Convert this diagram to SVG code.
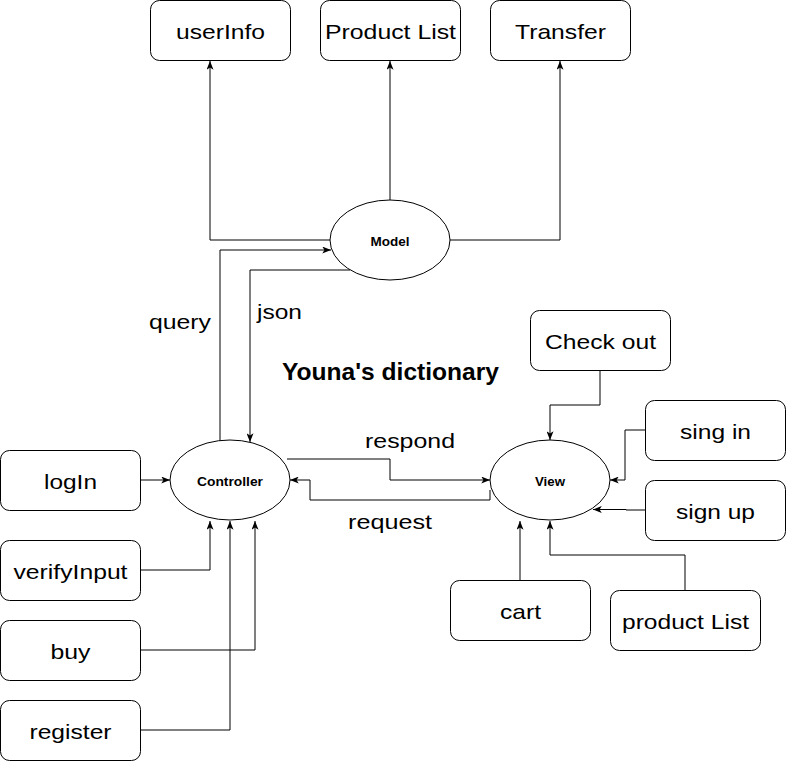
<svg xmlns="http://www.w3.org/2000/svg" width="786" height="761" viewBox="0 0 786 761">
<style>
.box{fill:#fff;stroke:#000;stroke-width:1}
.ell{fill:#fff;stroke:#000;stroke-width:1}
.t{font-family:"Liberation Sans",Arial,sans-serif;font-size:21px;fill:#000;text-anchor:middle}
.s{font-family:"Liberation Sans",Arial,sans-serif;font-size:13px;font-weight:bold;fill:#000;text-anchor:middle}
.title{font-family:"Liberation Sans",Arial,sans-serif;font-size:24px;font-weight:bold;fill:#000;text-anchor:middle}
.c{fill:none;stroke:#000;stroke-width:1}
</style>
<defs>
<marker id="arr" viewBox="0 0 10 8" refX="10" refY="4" markerWidth="9" markerHeight="7" markerUnits="userSpaceOnUse" orient="auto">
<path d="M0,0 L10,4 L0,8 L2.5,4 Z" fill="#000"/>
</marker>
</defs>
<rect width="786" height="761" fill="#fff"/>
<g id="connectors">
<path class="c" d="M330,240 H210 V61" marker-end="url(#arr)"/>
<path class="c" d="M390,200 V61" marker-end="url(#arr)"/>
<path class="c" d="M450,240 H560 V61" marker-end="url(#arr)"/>
<path class="c" d="M220,441 V250 H331" marker-end="url(#arr)"/>
<path class="c" d="M350,270 H250 V442" marker-end="url(#arr)"/>
<path class="c" d="M287,459 H390 V480 H490" marker-end="url(#arr)"/>
<path class="c" d="M490,490 V500 H310 V480 H290" marker-end="url(#arr)"/>
<path class="c" d="M140,480 H170" marker-end="url(#arr)"/>
<path class="c" d="M140,570 H210 V521" marker-end="url(#arr)"/>
<path class="c" d="M140,650 H255 V521" marker-end="url(#arr)"/>
<path class="c" d="M140,730 H230 V521" marker-end="url(#arr)"/>
<path class="c" d="M600,370 V405 H550 V440" marker-end="url(#arr)"/>
<path class="c" d="M645,430 H625 V480 H610" marker-end="url(#arr)"/>
<path class="c" d="M645,510 H626 V509.5 H593" marker-end="url(#arr)"/>
<path class="c" d="M520,580 V521" marker-end="url(#arr)"/>
<path class="c" d="M685,590 V555 H550 V521" marker-end="url(#arr)"/>
</g>
<g id="userInfo"><rect class="box" x="150.5" y="0.5" width="140" height="60" rx="9"/><text class="t" x="220.5" y="39" textLength="89" lengthAdjust="spacingAndGlyphs">userInfo</text></g>
<g id="productListTop"><rect class="box" x="320.5" y="0.5" width="140" height="60" rx="9"/><text class="t" x="390.5" y="39" textLength="131" lengthAdjust="spacingAndGlyphs">Product List</text></g>
<g id="transfer"><rect class="box" x="490.5" y="0.5" width="140" height="60" rx="9"/><text class="t" x="560.5" y="39" textLength="91" lengthAdjust="spacingAndGlyphs">Transfer</text></g>
<g id="model"><ellipse class="ell" cx="390" cy="240" rx="60" ry="40"/><text class="s" x="390" y="245.5" textLength="39" lengthAdjust="spacingAndGlyphs">Model</text></g>
<g id="controller"><ellipse class="ell" cx="230" cy="480" rx="60" ry="40"/><text class="s" x="230" y="485.5" textLength="66" lengthAdjust="spacingAndGlyphs">Controller</text></g>
<g id="view"><ellipse class="ell" cx="550" cy="480" rx="60" ry="40"/><text class="s" x="550" y="485.5" textLength="30" lengthAdjust="spacingAndGlyphs">View</text></g>
<g id="logIn"><rect class="box" x="0.5" y="450.5" width="140" height="60" rx="9"/><text class="t" x="70.5" y="489" textLength="53" lengthAdjust="spacingAndGlyphs">logIn</text></g>
<g id="verifyInput"><rect class="box" x="0.5" y="540.5" width="140" height="60" rx="9"/><text class="t" x="70.5" y="579" textLength="114" lengthAdjust="spacingAndGlyphs">verifyInput</text></g>
<g id="buy"><rect class="box" x="0.5" y="620.5" width="140" height="60" rx="9"/><text class="t" x="70.5" y="659" textLength="40" lengthAdjust="spacingAndGlyphs">buy</text></g>
<g id="register"><rect class="box" x="0.5" y="700.5" width="140" height="60" rx="9"/><text class="t" x="70.5" y="739" textLength="82" lengthAdjust="spacingAndGlyphs">register</text></g>
<g id="checkOut"><rect class="box" x="530.5" y="310.5" width="140" height="60" rx="9"/><text class="t" x="600.5" y="349" textLength="111" lengthAdjust="spacingAndGlyphs">Check out</text></g>
<g id="signIn"><rect class="box" x="645.5" y="400.5" width="140" height="60" rx="9"/><text class="t" x="715.5" y="439" textLength="71" lengthAdjust="spacingAndGlyphs">sing in</text></g>
<g id="signUp"><rect class="box" x="645.5" y="480.5" width="140" height="60" rx="9"/><text class="t" x="715.5" y="519" textLength="79" lengthAdjust="spacingAndGlyphs">sign up</text></g>
<g id="cart"><rect class="box" x="450.5" y="580.5" width="140" height="60" rx="9"/><text class="t" x="520.5" y="619" textLength="41" lengthAdjust="spacingAndGlyphs">cart</text></g>
<g id="productList"><rect class="box" x="610.5" y="590.5" width="150" height="60" rx="9"/><text class="t" x="685.5" y="629" textLength="127" lengthAdjust="spacingAndGlyphs">product List</text></g>
<g id="labels">
<text class="t" x="180" y="329" textLength="62" lengthAdjust="spacingAndGlyphs">query</text>
<text class="t" x="279.5" y="319" textLength="45" lengthAdjust="spacingAndGlyphs">json</text>
<text class="t" x="410" y="448" textLength="90" lengthAdjust="spacingAndGlyphs">respond</text>
<text class="t" x="390" y="529" textLength="84" lengthAdjust="spacingAndGlyphs">request</text>
<text class="title" x="390.5" y="380" textLength="217" lengthAdjust="spacingAndGlyphs">Youna's dictionary</text>
</g>
</svg>
